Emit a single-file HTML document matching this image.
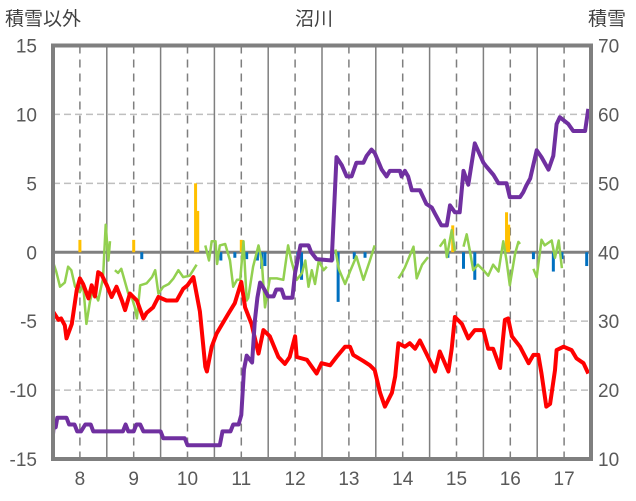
<!DOCTYPE html>
<html><head><meta charset="utf-8">
<style>
html,body{margin:0;padding:0;background:#fff;}
svg{display:block;font-family:"Liberation Sans","Noto Sans CJK JP",sans-serif;}
</style></head>
<body>
<svg id="chart" width="636" height="501" viewBox="0 0 636 501">
<text x="5" y="25" font-size="19" fill="#404040">積雪以外</text>
<text x="314" y="25" font-size="19" fill="#404040" text-anchor="middle">沼川</text>
<text x="588" y="25" font-size="19" fill="#404040">積雪</text>
<g id="grid"></g>
<g id="bars"></g>
<g id="lines"></g>
<g id="frame"></g>
<g id="labels"></g>
</svg>
<script>
const xTicks=[8,9,10,11,12,13,14,15,16,17];
const leftTicks=[15,10,5,0,-5,-10,-15];
const rightTicks=[70,60,50,40,30,20,10];
const purpleHours=[7.5,7.52,7.55,7.58,7.65,7.75,7.8,7.9,7.95,8.02,8.1,8.2,8.25,8.5,8.8,8.85,8.9,9.0,9.05,9.12,9.18,9.5,9.55,9.95,10.0,10.6,10.65,10.8,10.85,10.95,11.0,11.05,11.1,11.2,11.25,11.3,11.35,11.4,11.5,11.6,11.65,11.75,11.8,11.95,12.0,12.1,12.25,12.3,12.4,12.68,12.77,12.87,12.96,13.05,13.14,13.27,13.33,13.42,13.48,13.61,13.7,13.76,13.95,13.98,14.04,14.1,14.17,14.32,14.44,14.54,14.6,14.72,14.82,14.88,14.97,15.06,15.13,15.22,15.34,15.5,15.56,15.69,15.78,15.93,15.99,16.18,16.24,16.3,16.37,16.49,16.58,16.71,16.8,16.86,16.92,17.08,17.17,17.39,17.45];
const purpleSnow=[13.6,15.4,14.6,16,16,16,15,15,14,14,15,15,14,14,14,15,14,14,15,15,14,14,13,13,12,12,14,14,15,15,16.4,23,25,24,30,33.4,35.6,35,33.6,33.6,34.6,34.6,33.4,33.4,37,41,41,40,39,38.8,53.8,52.6,51,51,53,53,54,54.9,54.4,52,51,51.8,51.8,51,51.8,51,49,49,47,46.5,45.6,43.9,43.9,46.8,45.8,45.8,51.8,49.8,55.8,53,52.4,51.2,50,50,48,48,48.7,49.7,50.7,54.8,53.8,52,54,58.6,59.6,58.6,57.6,57.6,60.8];
const redHours=[7.5,7.6,7.65,7.72,7.75,7.85,7.94,8.0,8.06,8.16,8.22,8.28,8.34,8.4,8.5,8.59,8.68,8.78,8.84,8.93,9.06,9.18,9.24,9.36,9.46,9.61,9.8,9.92,10.0,10.11,10.23,10.33,10.36,10.45,10.54,10.6,10.76,10.88,11.0,11.07,11.19,11.32,11.41,11.53,11.69,11.81,11.9,12.0,12.03,12.22,12.4,12.49,12.65,12.77,12.93,13.02,13.08,13.27,13.39,13.48,13.58,13.67,13.8,13.86,13.92,14.04,14.13,14.23,14.32,14.44,14.6,14.69,14.85,14.91,14.97,15.1,15.22,15.34,15.5,15.59,15.68,15.81,15.9,15.96,16.03,16.18,16.34,16.43,16.52,16.58,16.67,16.74,16.83,16.86,16.99,17.14,17.23,17.36,17.45];
const redValues=[-4.3,-4.9,-4.8,-5.3,-6.25,-5.2,-2.75,-1.9,-2.3,-3.35,-2.4,-3.2,-1.45,-1.6,-2.4,-3.25,-2.5,-3.5,-4.2,-3.0,-3.5,-4.8,-4.4,-4.0,-3.25,-3.5,-3.5,-2.65,-2.4,-1.8,-4.3,-8.3,-8.65,-6.85,-5.9,-5.5,-4.45,-3.7,-2.15,-4.0,-5.2,-7.35,-5.65,-6.1,-7.6,-8.1,-7.6,-6.1,-7.6,-7.8,-8.8,-8.05,-8.2,-7.6,-6.85,-6.85,-7.45,-7.9,-8.2,-8.55,-10.2,-11.2,-10.2,-9.0,-6.6,-6.85,-6.6,-7.0,-6.4,-7.35,-8.65,-7.2,-8.65,-7.0,-4.7,-5.2,-6.25,-5.65,-5.65,-7.0,-7.0,-8.4,-4.9,-4.8,-6.1,-6.85,-8.05,-7.45,-7.45,-8.8,-11.2,-11.0,-8.55,-7.1,-6.85,-7.1,-7.7,-8.05,-8.8];
const greenHours=[7.5,7.56,7.63,7.72,7.78,7.84,7.91,8.0,8.06,8.12,8.19,8.25,8.34,8.43,8.48,8.53,8.56,null,8.65,8.71,8.77,8.9,8.96,9.02,9.06,9.12,9.24,9.34,9.4,9.46,9.55,9.65,9.74,9.83,9.92,10.04,10.17,null,10.33,10.4,10.45,10.52,10.55,10.6,10.7,10.79,10.85,10.92,10.98,11.04,11.1,11.13,11.22,11.32,11.38,11.44,11.53,11.66,11.78,11.87,11.93,12.03,12.13,12.19,12.25,12.31,12.37,12.44,12.53,12.59,null,12.75,12.81,12.93,13.02,13.14,13.27,13.39,13.48,null,13.92,13.98,14.04,14.2,14.26,14.36,14.47,null,14.69,14.78,14.82,14.91,14.97,null,15.13,15.19,15.25,15.31,15.4,15.5,15.59,15.68,15.78,15.87,15.93,15.99,16.09,16.15,16.18,null,16.43,16.49,16.58,16.64,16.77,16.83,16.9,16.96];
const greenValues=[-0.7,-1.4,-2.5,-2.2,-1.05,-1.3,-2.5,-2.9,-2.3,-5.2,-3.5,-2.7,-3.5,-1.9,2.0,-0.6,0.8,null,-1.3,-1.5,-1.2,-3.0,-3.2,-4.0,-4.8,-2.4,-2.25,-1.8,-1.3,-3.0,-2.5,-2.3,-1.9,-1.3,-1.8,-1.7,-0.9,null,0.5,-0.6,0.8,0.8,-0.85,0.5,0.6,-0.6,-2.5,-2.0,-2.0,0.8,-3.5,-3.3,-1.05,0.5,-0.6,-4.0,-1.9,-1.9,-2.0,0.5,-0.6,-2.0,-1.5,-0.6,-2.5,-1.3,-2.3,-0.6,-1.3,-1.05,null,0.2,-1.2,-2.3,-1.4,-0.3,-2.0,-0.6,0.5,null,-1.9,-1.55,-1.1,0.4,-1.9,-0.9,-0.35,null,0.4,0.9,-0.35,1.6,0.1,null,0.4,1.3,0.1,-1.3,-0.9,-1.3,-1.7,-0.9,-1.4,0.8,-0.6,-2.4,-0.1,0.75,0.6,null,-1.2,-1.8,0.9,0.5,0.85,-0.4,0.85,-1.15];
const barHours=[8.0,9.0,10.15,10.19,11.0,14.93,15.93,15.97,9.15,10.62,10.88,11.1,11.3,11.38,11.44,12.05,12.12,12.7,12.8,13.1,13.3,14.84,15.13,15.34,16.43,16.8,16.96,17.42];
const barValues=[0.9,0.9,5.0,3.0,0.9,1.95,2.9,2.0,-0.5,-0.6,-0.4,-0.5,-0.6,-1.2,-1.0,-0.5,-2.0,-0.6,-3.6,-0.5,-0.4,-0.4,-1.2,-2.0,-0.5,-1.4,-0.5,-1.0];

const NS='http://www.w3.org/2000/svg';
const X0=53,X1=591,Y0=45.5,Y1=459;
const xs=h=>X0+(h-7.5)/10*(X1-X0);
const yL=v=>Y0+(15-v)/30*(Y1-Y0);
const yR=v=>Y0+(70-v)/60*(Y1-Y0);
function mk(tag,attrs,parent){const e=document.createElementNS(NS,tag);for(const k in attrs)e.setAttribute(k,attrs[k]);parent.appendChild(e);return e;}
const grid=document.getElementById('grid'),bars=document.getElementById('bars'),lines=document.getElementById('lines'),frame=document.getElementById('frame'),labels=document.getElementById('labels');
leftTicks.forEach(v=>{if(v===15||v===-15||v===0)return;
 const l=mk('line',{x1:X0,x2:X1,y1:yL(v),y2:yL(v),stroke:'#bfbfbf','stroke-width':1.5,'stroke-dasharray':'7,4'},grid);
 
 });
xTicks.forEach(h=>{
 const d=mk('line',{x1:xs(h),x2:xs(h),y1:Y0,y2:Y1,stroke:'#7f7f7f','stroke-width':1.5,'stroke-dasharray':'8,6'},grid);
 
 
 if(h<17){const s=mk('line',{x1:xs(h+0.5),x2:xs(h+0.5),y1:Y0,y2:Y1,stroke:'#7f7f7f','stroke-width':1.5},grid);
 
 }
});
barHours.forEach((h,i)=>{const v=barValues[i];
 const y=Math.min(yL(0),yL(v)),hh=Math.abs(yL(v)-yL(0));
 const r=mk('rect',{x:xs(h)-1.5,y:y,width:3,height:hh,fill:v>0?'#ffc000':'#0070c0'},bars);
 
 });
const z=mk('line',{x1:X0,x2:X1,y1:yL(0),y2:yL(0),stroke:'#808080','stroke-width':3},grid);


function path(hours,vals,yf){let d='',pen=false;hours.forEach((h,i)=>{if(h===null||vals[i]===null){pen=false;return;}d+=(pen?'L':'M')+xs(h).toFixed(1)+','+yf(vals[i]).toFixed(1);pen=true;});return d;}
const g=mk('path',{d:path(greenHours,greenValues,yL),fill:'none',stroke:'#92d050','stroke-width':2.5,'stroke-linejoin':'round'},lines);


const r=mk('path',{d:path(redHours,redValues,yL),fill:'none',stroke:'#ff0000','stroke-width':4,'stroke-linejoin':'round'},lines);


const p=mk('path',{d:path(purpleHours,purpleSnow,yR),fill:'none',stroke:'#7030a0','stroke-width':4,'stroke-linejoin':'round'},lines);


const fr=mk('rect',{x:X0,y:Y0,width:X1-X0,height:Y1-Y0,fill:'none',stroke:'#7f7f7f','stroke-width':4},frame);


leftTicks.forEach(v=>{const t=mk('text',{x:37,y:yL(v)+7,'font-size':19,fill:'#595959','text-anchor':'end'},labels);t.textContent=v;
 
 });
rightTicks.forEach(v=>{const t=mk('text',{x:598,y:yR(v)+7,'font-size':19,fill:'#595959'},labels);t.textContent=v;
 
 });
xTicks.forEach(h=>{const t=mk('text',{x:xs(h),y:485,'font-size':19,fill:'#595959','text-anchor':'middle'},labels);t.textContent=h;
 
 });
</script>
</body></html>
